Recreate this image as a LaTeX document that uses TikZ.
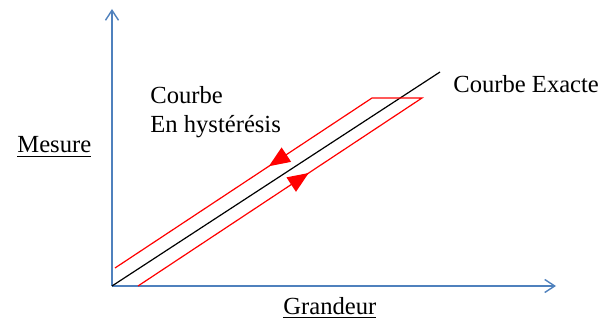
\documentclass[tikz,border=0pt]{standalone}
\usepackage{fontspec}
\setmainfont{Liberation Serif}
\usetikzlibrary{arrows.meta,decorations.markings}
\definecolor{axisblue}{RGB}{79,129,189}

\begin{document}
\begin{tikzpicture}[
  x=0.5pt, y=-0.5pt,
  axis/.style={draw=axisblue, line width=0.7pt,
               -{Straight Barb[length=5pt,width=6.5pt]}},
  exact/.style={draw=black, line width=0.6pt},
  hyst/.style={red, line width=0.6pt, postaction={decorate},
    decoration={markings,
      mark=at position 0.293 with {\arrow{Triangle[length=10.5pt,width=8.5pt]}},
      mark=at position 0.736 with {\arrow{Triangle[length=10.5pt,width=8.5pt]}}}},
  lbl/.style={font=\fontsize{12.3}{14.5}\selectfont, inner sep=0pt}
]
  \useasboundingbox (0,0) rectangle (614,325);

  % Axes
  \coordinate (O) at (112,286);
  \coordinate (ytop) at (112,9);
  \coordinate (xend) at (556,286);
  \draw[axis] (O) -- (ytop);
  \draw[axis] (O) -- (xend);

  % Exact curve
  \coordinate (eend) at (440,72);
  \draw[exact] (O) -- (eend);

  % Hysteresis loop (drawn bottom start -> top -> back down)
  \coordinate (h1) at (115,268);
  \coordinate (h2) at (372,98);
  \coordinate (h3) at (422,98);
  \coordinate (h4) at (138,286);
  \draw[hyst] (h4) -- (h3) -- (h2) -- (h1);

  % Labels
  \node[lbl, anchor=base west] (mesure) at (17,153) {\underline{Mesure}};
  \node[lbl, anchor=base west] (grandeur) at (283,314) {\underline{Grandeur}};
  \node[lbl, anchor=base west] (exacte) at (453,93) {Courbe Exacte};
  \node[lbl, anchor=north west, align=left] (hysteresis) at (150,86)
    {Courbe\\En hystérésis};
\end{tikzpicture}
\end{document}
